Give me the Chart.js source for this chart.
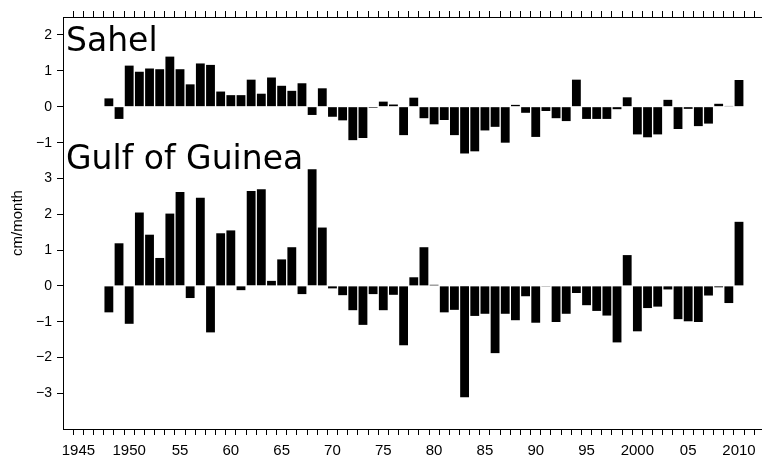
<!DOCTYPE html>
<html>
<head>
<meta charset="utf-8">
<title>Sahel / Gulf of Guinea</title>
<script src="https://cdn.jsdelivr.net/npm/chart.js@4.4.1/dist/chart.umd.min.js"></script>
<style>
	html, body { margin: 0; padding: 0; background: #fff; }
	#chart-wrap { width: 762px; height: 457px; }
</style>
</head>
<body>
<div id="chart-wrap"><canvas id="rain-chart" width="762" height="457"></canvas></div>
<script>
// years shared by both panels
const years = [
	1948, 1949, 1950, 1951, 1952, 1953, 1954, 1955, 1956, 1957,
	1958, 1959, 1960, 1961, 1962, 1963, 1964, 1965, 1966, 1967,
	1968, 1969, 1970, 1971, 1972, 1973, 1974, 1975, 1976, 1977,
	1978, 1979, 1980, 1981, 1982, 1983, 1984, 1985, 1986, 1987,
	1988, 1989, 1990, 1991, 1992, 1993, 1994, 1995, 1996, 1997,
	1998, 1999, 2000, 2001, 2002, 2003, 2004, 2005, 2006, 2007,
	2008, 2009, 2010
];

// Sahel anomaly, cm/month
const sahel = [
	0.23, -0.34, 1.14, 0.97, 1.06, 1.04, 1.39, 1.04, 0.62, 1.20,
	1.16, 0.42, 0.32, 0.32, 0.75, 0.36, 0.81, 0.58, 0.44, 0.65,
	-0.23, 0.51, -0.28, -0.38, -0.93, -0.87, -0.03, 0.14, 0.06, -0.79,
	0.25, -0.32, -0.49, -0.37, -0.79, -1.30, -1.24, -0.66, -0.56, -1.00,
	0.05, -0.17, -0.84, -0.12, -0.32, -0.40, 0.75, -0.34, -0.34, -0.34,
	-0.07, 0.26, -0.77, -0.85, -0.77, 0.19, -0.62, -0.06, -0.54, -0.47,
	0.08, 0.02, 0.74
];

// Gulf of Guinea anomaly, cm/month
const guinea = [
	-0.74, 1.19, -1.06, 2.05, 1.43, 0.78, 2.02, 2.62, -0.34, 2.46,
	-1.30, 1.47, 1.55, -0.12, 2.65, 2.70, 0.14, 0.74, 1.08, -0.23,
	3.26, 1.63, -0.07, -0.26, -0.68, -1.09, -0.23, -0.68, -0.25, -1.66,
	0.24, 1.08, 0.03, -0.74, -0.67, -3.11, -0.84, -0.78, -1.88, -0.78,
	-0.96, -0.29, -1.03, -0.02, -1.01, -0.78, -0.20, -0.54, -0.70, -0.83,
	-1.58, 0.86, -1.27, -0.62, -0.58, -0.10, -0.93, -0.99, -1.01, -0.27,
	-0.04, -0.48, 1.79
];

const sahelTicks = [-1, 0, 1, 2];
const guineaTicks = [-3, -2, -1, 0, 1, 2, 3];
const fullYearLabels = [1945, 1950, 2000, 2010];

const tickFont = { family: "'Liberation Sans', Arial, sans-serif", size: 14 };
const yearFont = { family: "'Liberation Sans', Arial, sans-serif", size: 15 };

// yearly ticks, a label every five years
function yearTicks( scale ) {
	const ticks = [];
	for ( let y = Math.ceil( scale.min + 0.5 ); y <= scale.max; y++ ) {
		ticks.push( { value: y } );
	}
	scale.ticks = ticks;
}

function yearLabel( value ) {
	if ( value % 5 !== 0 )
		return '';
	if ( fullYearLabels.indexOf( value ) > -1 )
		return String( value );
	return String( value ).slice( 2 );
}

function minusLabel( value ) {
	return String( value ).replace( '-', '\u2212' );
}

// the Sahel axis shares the left edge: widen its box after layout so its labels are not clipped
const sharedAxis = {
	id: 'sharedAxis',
	afterLayout: function ( chart ) {
		chart.scales.yTop.left = 0;
	}
};

// panel titles written inside the frame
const panelLabels = {
	id: 'panelLabels',
	afterDatasetsDraw: function ( chart ) {
		const ctx = chart.ctx;
		const left = chart.chartArea.left;

		ctx.save();
		ctx.font = "33px 'DejaVu Sans', sans-serif";
		ctx.fillStyle = '#000';
		ctx.textBaseline = 'alphabetic';
		ctx.fillText( 'Sahel', left + 3, 51 );
		ctx.fillText( 'Gulf of Guinea', left + 3, 169 );
		ctx.restore();
	}
};

const toPoints = function ( values ) {
	return values.map( function ( v, i ) {
		return { x: years[i], y: v };
	} );
};

const axisLine = { display: true, color: '#000', width: 1 };
const tickMarks = {
	display: true,
	drawOnChartArea: false,
	drawTicks: true,
	tickLength: 6,
	color: '#000',
	tickColor: '#000',
	tickWidth: 1
};

new Chart( document.getElementById( 'rain-chart' ).getContext( '2d' ), {
	type: 'bar',
	data: {
		datasets: [
			{
				label: 'Sahel',
				data: toPoints( sahel ),
				yAxisID: 'yTop',
				backgroundColor: '#000',
				borderWidth: 0,
				grouped: false,
				barPercentage: 0.87,
				categoryPercentage: 1
			},
			{
				label: 'Gulf of Guinea',
				data: toPoints( guinea ),
				yAxisID: 'y',
				backgroundColor: '#000',
				borderWidth: 0,
				grouped: false,
				barPercentage: 0.87,
				categoryPercentage: 1
			}
		]
	},
	options: {
		responsive: false,
		animation: false,
		devicePixelRatio: 1,
		layout: { padding: 0 },
		plugins: {
			legend: { display: false },
			tooltip: { enabled: false }
		},
		scales: {
			x: {
				type: 'linear',
				position: 'bottom',
				min: 1944,
				max: 2011.75,
				afterBuildTicks: yearTicks,
				afterFit: function ( s ) { s.height = 28; },
				border: axisLine,
				grid: tickMarks,
				ticks: {
					autoSkip: false,
					maxRotation: 0,
					padding: 7,
					color: '#000',
					font: yearFont,
					callback: yearLabel
				}
			},
			xTop: {
				type: 'linear',
				position: 'top',
				min: 1944,
				max: 2011.75,
				afterBuildTicks: yearTicks,
				afterFit: function ( s ) { s.height = 17; },
				border: axisLine,
				grid: tickMarks,
				ticks: { display: false }
			},
			y: {
				type: 'linear',
				position: 'left',
				weight: 2,
				min: -4,
				max: 7.514,
				afterBuildTicks: function ( s ) {
					s.ticks = guineaTicks.map( function ( v ) { return { value: v }; } );
				},
				afterFit: function ( s ) { s.width = 63; },
				border: axisLine,
				grid: tickMarks,
				ticks: {
					padding: 5,
					color: '#000',
					font: tickFont,
					callback: minusLabel
				},
				title: {
					display: true,
					text: 'cm/month',
					color: '#000',
					font: { family: "'Liberation Sans', Arial, sans-serif", size: 15 },
					padding: { top: 9, bottom: 0 }
				}
			},
			yTop: {
				type: 'linear',
				position: 'left',
				weight: 1,
				min: -8.95,
				max: 2.49,
				afterBuildTicks: function ( s ) {
					s.ticks = sahelTicks.map( function ( v ) { return { value: v }; } );
				},
				afterFit: function ( s ) { s.width = 0; },
				border: { display: false },
				grid: tickMarks,
				ticks: {
					padding: 5,
					color: '#000',
					font: tickFont,
					callback: minusLabel
				}
			}
		}
	},
	plugins: [sharedAxis, panelLabels]
} );
</script>
</body>
</html>
